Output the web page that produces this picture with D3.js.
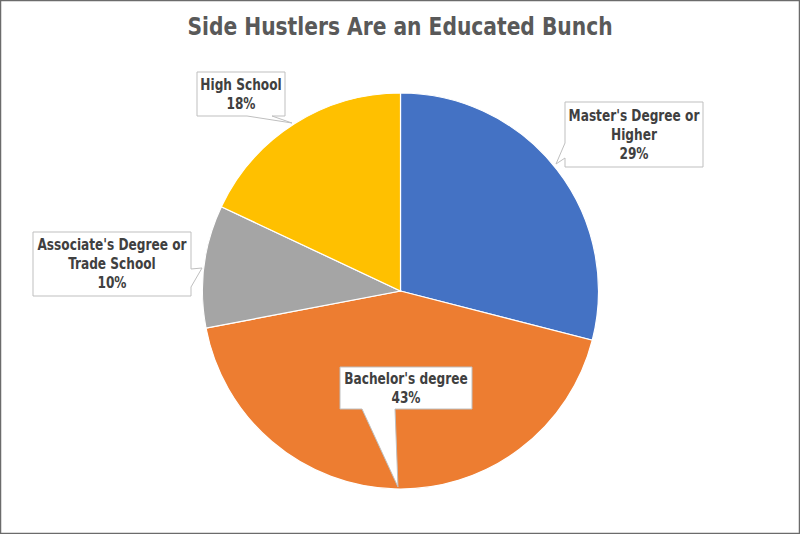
<!DOCTYPE html>
<html>
<head>
<meta charset="utf-8">
<script src="https://cdn.jsdelivr.net/npm/d3@7"></script>
<style>
  html, body { margin: 0; padding: 0; background: #fff; }
  svg text { font-family: "Liberation Sans Narrow", "DejaVu Sans Condensed", sans-serif; font-weight: bold; }
</style>
</head>
<body>
<svg id="chart" width="800" height="534"></svg>
<script>
const categories = ["Master's Degree or Higher", "Bachelor's degree", "Associate's Degree or Trade School", "High School"];
const values = [29, 43, 10, 18];
const colors = ["#4472C4", "#ED7D31", "#A5A5A5", "#FFC000"];
const labelLines = [
  ["Master's Degree or", "Higher"],
  ["Bachelor's degree"],
  ["Associate's Degree or", "Trade School"],
  ["High School"]
];

const width = 800, height = 534;
const cx = 400.5, cy = 291, radius = 198;
const squeeze = 0.9; // fake the narrow excel font

// callout boxes, placed by hand like the excel ones
const callouts = [
  { x: 565, y: 102, w: 138, h: 65, side: "left", a: 158, b: 143, tip: [556, 164] },
  { x: 340, y: 367, w: 132, h: 42, side: "bottom", a: 395, b: 362, tip: [398, 487] },
  { x: 33, y: 232, w: 158, h: 64, side: "right", a: 269, b: 287, tip: [202, 268] },
  { x: 197, y: 72, w: 88, h: 44, side: "bottom", a: 272, b: 247, tip: [292, 123] }
];

const svg = d3.select("#chart");

svg.append("rect")
  .attr("x", 0.5).attr("y", 0.5)
  .attr("width", width - 1).attr("height", height - 1)
  .attr("fill", "#fff")
  .attr("stroke", "#6b6b6b")
  .attr("stroke-width", 1.5);

svg.append("text")
  .attr("x", 400).attr("y", 35)
  .attr("text-anchor", "middle")
  .attr("fill", "#595959")
  .style("font-size", "25px")
  .text("Side Hustlers Are an Educated Bunch");

const pie = d3.pie().sort(null).value(d => d);
const arc = d3.arc().innerRadius(0).outerRadius(radius);
const arcs = pie(values);

const g = svg.append("g").attr("transform", `translate(${cx},${cy})`);
g.selectAll("path.slice")
  .data(arcs)
  .enter()
  .append("path")
  .attr("class", "slice")
  .attr("d", arc)
  .attr("fill", (d, i) => colors[i])
  .attr("stroke", "#fff")
  .attr("stroke-width", 1.2);

function calloutPath(c) {
  const { x, y, w, h } = c;
  const pts = [[x, y], [x + w, y]];
  if (c.side === "right") pts.push([x + w, c.a], c.tip, [x + w, c.b]);
  pts.push([x + w, y + h]);
  if (c.side === "bottom") pts.push([c.a, y + h], c.tip, [c.b, y + h]);
  pts.push([x, y + h]);
  if (c.side === "left") pts.push([x, c.a], c.tip, [x, c.b]);
  return d3.line()(pts) + "Z";
}

const lineH = 19;
const labels = svg.selectAll("g.callout")
  .data(arcs)
  .enter()
  .append("g")
  .attr("class", "callout");

labels.append("path")
  .attr("d", (d, i) => calloutPath(callouts[i]))
  .attr("fill", "#fff")
  .attr("stroke", "#bfbfbf")
  .attr("stroke-width", 1);

labels.each(function(d, i) {
  const c = callouts[i];
  const lines = labelLines[i].concat([d3.format(".0%")(d.value / 100)]);
  const top = c.y + c.h / 2 - (lines.length - 1) * lineH / 2;
  d3.select(this).selectAll("text")
    .data(lines)
    .enter()
    .append("text")
    .attr("x", c.x + c.w / 2)
    .attr("y", (t, j) => top + j * lineH)
    .attr("dy", "0.35em")
    .attr("text-anchor", "middle")
    .attr("fill", "#404040")
    .style("font-size", "15px")
    .text(t => t);
});

// squeeze every text horizontally
svg.selectAll("text").each(function() {
  const len = this.getComputedTextLength();
  d3.select(this)
    .attr("textLength", len * squeeze)
    .attr("lengthAdjust", "spacingAndGlyphs");
});
</script>
</body>
</html>
